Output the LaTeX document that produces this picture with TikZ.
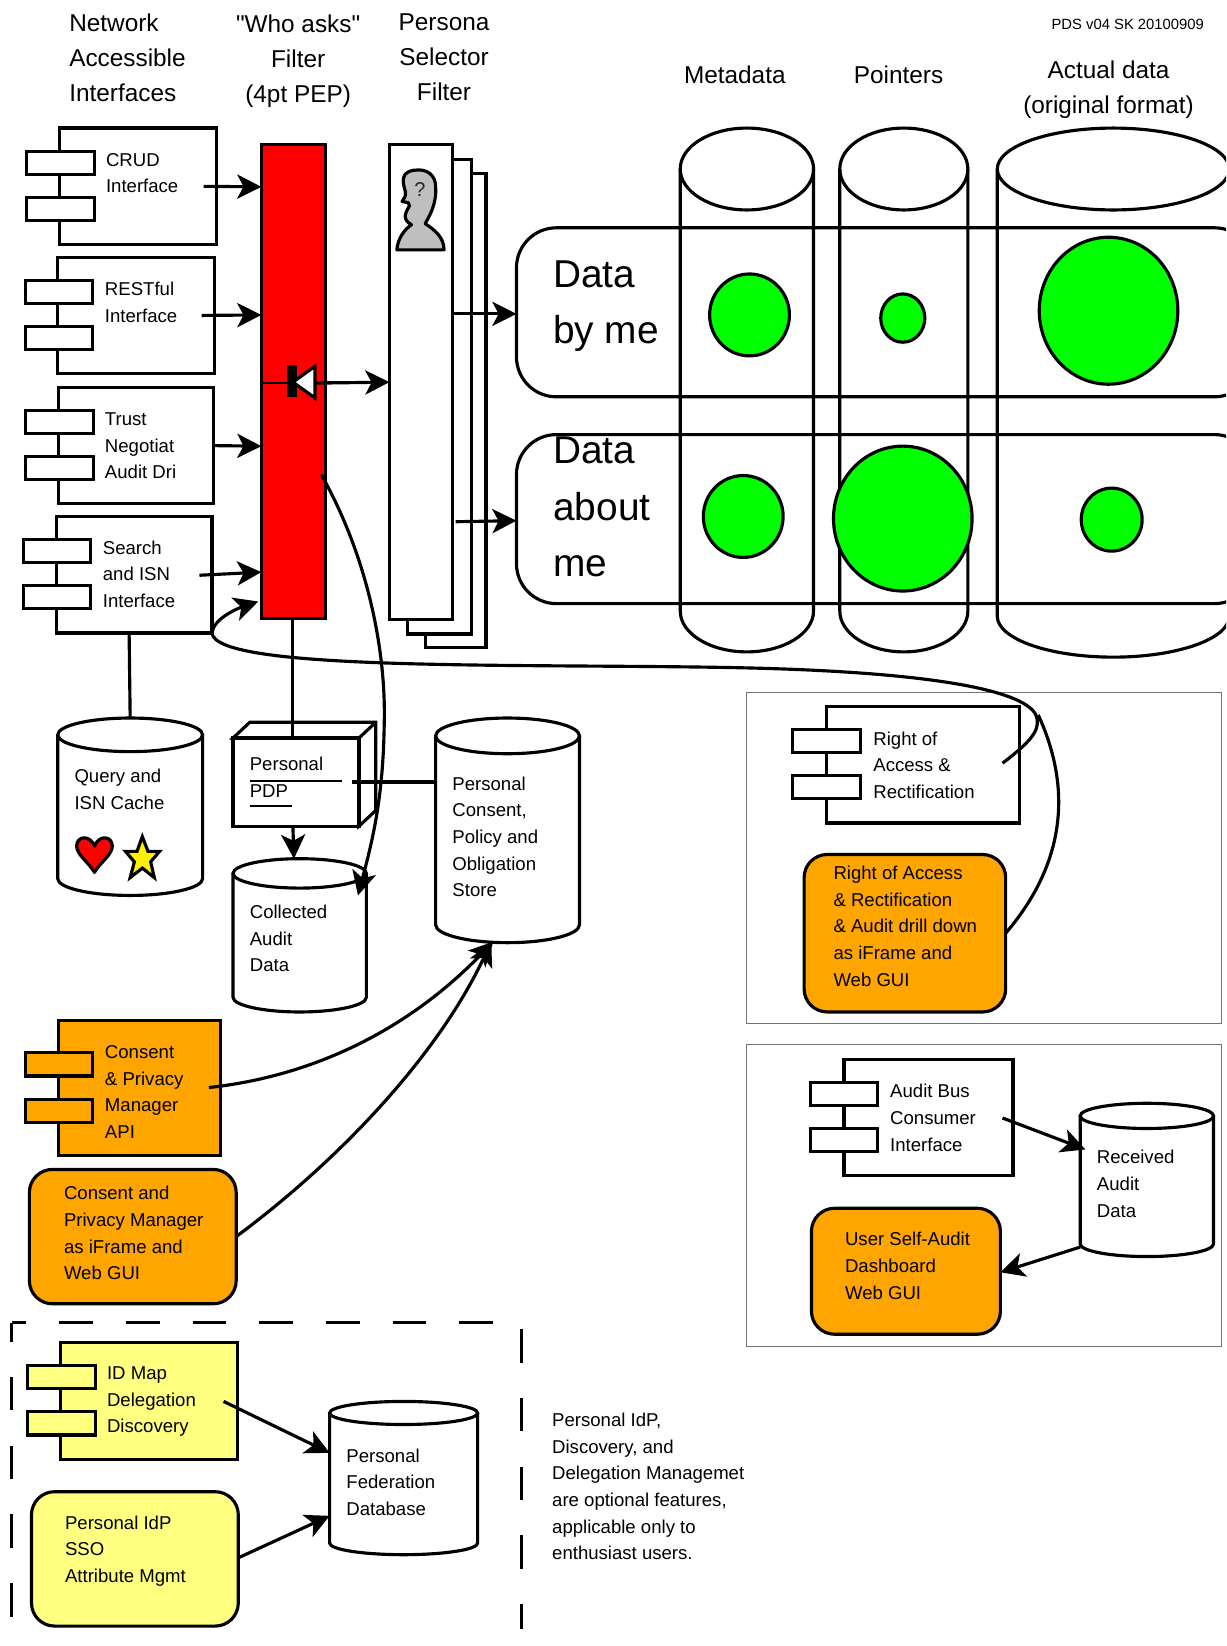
\documentclass[tikz,border=0pt]{standalone}
\usepackage{fontspec}
\setmainfont{Liberation Sans}
\newfontfamily\plainsans{Liberation Sans}
\usetikzlibrary{arrows.meta,shapes.geometric}
\newcommand\bx[6]{\pgfmathsetmacro\bxw{#5-#3}\pgfmathsetmacro\bxh{#6-#4}\pgfmathsetmacro\bxcx{(#3+#5)/2}\pgfmathsetmacro\bxcy{(#4+#6)/2}\node[#2,minimum width=\bxw pt,minimum height=\bxh pt] (#1) at (\bxcx,\bxcy) {};}
% component: name, fill, x1,y1,x2,y2, tab left, tab right, first tab top
\newcommand\comp[9]{\bx{#1}{solid box,fill=#2}{#3}{#4}{#5}{#6}
\pgfmathsetmacro\tby{#9+22}\pgfmathsetmacro\tcy{#9+44}\pgfmathsetmacro\tdy{#9+66}
\bx{#1t1}{solid box,fill=#2}{#7}{#9}{#8}{\tby}
\bx{#1t2}{solid box,fill=#2}{#7}{\tcy}{#8}{\tdy}}
% cylinder: name, fill opt, x1,x2,ytop,ybot,ry
\newcommand\cyl[7]{\pgfmathsetmacro\cyrx{(#4-#3)/2}\pgfmathsetmacro\cya{#5+#7}\pgfmathsetmacro\cyb{#6-#7}\pgfmathsetmacro\cyc{(#3+#4)/2}
\draw[thick line,#2] (#3,\cya) -- (#3,\cyb) arc[start angle=180,end angle=360,x radius=\cyrx pt,y radius=#7pt] -- (#4,\cya);
\draw[thick line,#2] (\cyc,\cya) ellipse[x radius=\cyrx pt,y radius=#7pt];
\bx{#1}{inner sep=0pt,outer sep=0pt,draw=none}{#3}{#5}{#4}{#6}}
\tikzset{
 thick line/.style={line width=3pt,draw=black},
 solid box/.style={draw=black,line width=3pt,inner sep=0pt,outer sep=0pt,rectangle},
 round box/.style={solid box,rounded corners=22pt},
 panel/.style={draw=black!55,line width=1.1pt,inner sep=0pt,outer sep=0pt,rectangle},
 link/.style={line width=3pt,draw=black},
 arr/.style={link,-{Stealth[length=23pt,width=23pt,inset=6pt]}},
 dashline/.style={line width=3pt,draw=black},
 lbl/.style={anchor=north west,inner sep=0pt,outer sep=0pt,align=left,yshift=-3pt,font=\fontsize{17.7}{25.4}\selectfont},
 title/.style={anchor=north west,inner sep=0pt,outer sep=0pt,align=left,yshift=-5pt,font=\fontsize{23.2}{33.5}\selectfont},
 ctitle/.style={anchor=north,inner sep=0pt,outer sep=0pt,align=center,yshift=-5pt,font=\fontsize{23.2}{33.5}\selectfont},
 big/.style={anchor=north west,inner sep=0pt,outer sep=0pt,align=left,yshift=-14pt,font=\fontsize{37}{54}\selectfont},
 blob/.style={ellipse,draw=black,line width=3pt,fill=green,inner sep=0pt,outer sep=0pt},
}
\definecolor{orangebox}{HTML}{FFA500}
\definecolor{yellowbox}{HTML}{FFFF80}
\begin{document}
\begin{tikzpicture}[x=1pt,y=-1pt]
\useasboundingbox (0,0) rectangle (1168,1568);
\clip (0,0) rectangle (1168,1568);
\fill[white] (0,0) rectangle (1168,1568);

% titles
\node[title] (tnet) at (66,8) {Network\\Accessible\\Interfaces};
\node[ctitle] (twho) at (284,9) {{\plainsans"Who asks"}\\Filter\\(4pt PEP)};
\node[ctitle] (tsel) at (423,8) {Persona\\Selector\\Filter};
\node[ctitle] (tmeta) at (700,58) {Metadata};
\node[ctitle] (tptr) at (856,58) {Pointers};
\node[ctitle] (tact) at (1056,53) {Actual data\\(original format)};
\node[anchor=east,inner sep=0pt,font=\fontsize{14.1}{18}\selectfont] (tpds) at (1147,23) {PDS v04 SK 20100909};

% data rows
\bx{rowa}{solid box,rounded corners=38pt}{492}{217}{1195}{378}
\bx{rowb}{solid box,rounded corners=38pt}{492}{414}{1195}{575}
% big stores
\cyl{smeta}{}{648}{775}{122}{621}{39}
\cyl{sptr}{}{800}{922}{122}{621}{39}
\cyl{sact}{}{950}{1171}{122}{626}{39}
\node[big] (da) at (527,234) {Data\\by me};
\node[big] (db) at (527,402) {Data\\about\\me};
% blobs
\node[blob,minimum width=76pt,minimum height=78pt] (g1) at (714,300) {};
\node[blob,minimum width=42pt,minimum height=46pt] (g2) at (860,303) {};
\node[blob,minimum width=132pt,minimum height=140pt] (g3) at (1056,296) {};
\node[blob,minimum width=76pt,minimum height=78pt] (g4) at (708,492) {};
\node[blob,minimum width=132pt,minimum height=138pt] (g5) at (860,494) {};
\node[blob,minimum width=58pt,minimum height=60pt] (g6) at (1059,495) {};

% persona pages
\bx{pg3}{solid box,fill=white}{405}{165}{463}{617}
\bx{pg2}{solid box,fill=white}{388}{152}{449}{604}
\bx{pg1}{solid box,fill=white}{371}{138}{431}{590}
\draw[line width=3pt,fill=black!25,line join=round] (397,162) .. controls (407,161) and (415,167) .. (415,178) .. controls (416,192) and (411,203) .. (405,213) .. controls (414,219) and (423,226) .. (423,238) -- (378,238) .. controls (379,227) and (385,219) .. (392,214) .. controls (388,212) and (386,209) .. (386,206) .. controls (386,203) and (388,200) .. (390,196) -- (389,193) -- (383,192) .. controls (385,189) and (387,187) .. (386,182) .. controls (384,175) and (383,170) .. (386,166) .. controls (389,163) and (393,162) .. (397,162) -- cycle;
\node[font=\fontsize{19}{19}\selectfont,inner sep=0pt,text=black!85] (qm) at (400,181) {?};

% red PEP
\bx{red}{solid box,fill=red}{249}{138}{310}{589}

% components
\comp{crud}{white}{57}{122}{206}{233}{25}{90}{144}
\comp{rest}{white}{55}{245}{204}{356}{24}{88}{267}
\comp{trust}{white}{56}{369}{203}{480}{24}{89}{391}
\comp{search}{white}{54}{492}{202}{603}{22}{86}{514}
\node[lbl] (lcrud) at (101,143) {CRUD\\Interface};
\node[lbl] (lrest) at (100,266) {RESTful\\Interface};
\node[lbl] (ltrust) at (100,390) {Trust\\Negotiat\\Audit Dri};
\node[lbl] (lsearch) at (98,512) {Search\\and ISN\\Interface};

% arrows into PEP
\draw[arr] ([xshift=-12pt]crud.east) -- (red.west |- 0,178);
\draw[arr] ([xshift=-12pt]rest.east) -- (red.west |- 0,300);
\draw[arr] (trust.east) -- (red.west |- 0,425);
\draw[arr] ([xshift=-12pt,yshift=-0.5pt]search.east) -- (red.west |- 0,545);

% diode
\coordinate (dio) at (278,365);
\draw[line width=1.8pt] (red.west |- dio) -- (300,365);
\draw[link] (310,364) -- (327,364);
\fill[black] (273,348) rectangle (283,378);
\draw[line width=3pt,fill=white,line join=miter] (300,349) -- (300,379) -- (279,364) -- cycle;
\draw[arr] (300,365) -- (pg1.west |- 0,364);

% persona to rows
\draw[arr] (pg1.east |- 0,299) -- (rowa.west |- 0,299);
\draw[arr] (434,497) -- (rowb.west |- 0,496);

% lower left stores
\cyl{qcache}{fill=white}{55}{193}{684}{853}{16}
\node[lbl] (lq) at (71,730) {Query and\\ISN Cache};
\draw[line width=3pt,fill=red,line join=round] (90,831) .. controls (84,821) and (73,814) .. (73,806) .. controls (73,796) and (86,795) .. (90,806) .. controls (94,795) and (107,796) .. (107,806) .. controls (107,814) and (96,821) .. (90,831) -- cycle;
\draw[line width=3pt,fill=yellow,line join=miter] (135.6,797) -- (141,811) -- (152,811) -- (143.5,821) -- (147,836) -- (135.6,827) -- (124,836) -- (128,821) -- (119.5,811) -- (130.5,811) -- cycle;

\cyl{store}{fill=white}{415}{552}{684}{898}{17}
\node[lbl] (lstore) at (431,737) {Personal\\Consent,\\Policy and\\Obligation\\Store};
\cyl{audit}{fill=white}{222}{349}{818}{964}{14}
\node[lbl] (laudit) at (238,859) {Collected\\Audit\\Data};

% PDP cube
\draw[thick line,fill=white,line join=miter] (222,703) -- (238,688) -- (358,688) -- (358,772) -- (342,787) -- (342,703) -- cycle;
\draw[thick line] (342,703) -- (358,688);
\bx{pdp}{solid box,fill=white}{222}{703}{342}{787}
\node[lbl] (lpdp) at (238,718) {Personal\\PDP};
\draw[line width=1.5pt] (238,744) -- (326,744);
\draw[line width=1.5pt] (238,768) -- (278,768);

\draw[link] (search.south -| 123,0) -- (qcache.north -| 124,0);
\draw[link] (red.south -| 279,0) -- (pdp.north -| 279,0);
\draw[arr] (pdp.south -| 279,0) -- (audit.north -| 280,0);
\draw[link] (335,745) -- (store.west |- 0,745);

% red curve to audit
\draw[arr] (306,452) .. controls (350,530) and (368,620) .. (366,690) .. controls (365,760) and (355,800) .. (341,853);

% Orange group left
\comp{cons}{orangebox}{56}{972}{210}{1101}{24}{88}{1003}
\node[lbl] (lcons) at (100,993) {Consent\\\& Privacy\\Manager\\API};
\bx{consg}{round box,fill=orangebox}{28}{1114}{225}{1242}
\node[lbl] (lconsg) at (61,1127) {Consent and\\Privacy Manager\\as iFrame and\\Web GUI};
\draw[arr] (199,1036) .. controls (300,1025) and (390,980) .. (470,897);
\draw[arr] (consg.east) .. controls (330,1100) and (420,1000) .. (468,897);

% Optional area
\draw[dashline,dash pattern=on 32pt off 31.5pt,dash phase=18pt] (11,1260) -- (497,1260);
\draw[dashline,dash pattern=on 32pt off 33.5pt,dash phase=14pt] (11,1260) -- (11,1568);
\draw[dashline,dash pattern=on 32pt off 33.5pt,dash phase=59.5pt] (497,1260) -- (497,1552);
\comp{idm}{yellowbox}{58}{1279}{226}{1390}{26}{91}{1301}
\node[lbl] (lidm) at (102,1299) {ID Map\\Delegation\\Discovery};
\bx{idp}{round box,fill=yellowbox}{30}{1421}{227}{1549}
\node[lbl] (lidp) at (62,1441) {Personal IdP\\SSO\\Attribute Mgmt};
\cyl{fed}{fill=white}{314}{455}{1335}{1481}{11}
\node[lbl] (lfed) at (330,1377) {Personal\\Federation\\Database};
\draw[arr] (213,1335) -- (fed.west |- 0,1384);
\draw[arr] (idp.east |- 0,1484) -- (fed.west |- 0,1444);
\node[lbl] (lnote) at (526,1343) {Personal IdP,\\Discovery, and\\Delegation Managemet\\are optional features,\\applicable only to\\enthusiast users.};

% Right panel 1
\bx{panela}{panel}{711}{660}{1164}{975}
\comp{roa}{white}{787}{673}{971}{784}{755}{820}{695}
\node[lbl] (lroa) at (832,694) {Right of\\Access \&\\Rectification};
\bx{roag}{round box,fill=orangebox}{766}{814}{958}{964}
\node[lbl] (lroag) at (794,822) {Right of Access\\\& Rectification\\\& Audit drill down\\as iFrame and\\Web GUI};

% Right panel 2
\bx{panelb}{panel}{711}{995}{1164}{1283}
\comp{abus}{white}{804}{1009}{965}{1120}{772}{836}{1031}
\node[lbl] (labus) at (848,1030) {Audit Bus\\Consumer\\Interface};
\cyl{recv}{fill=white}{1029}{1156}{1051}{1197}{12}
\node[lbl] (lrecv) at (1045,1093) {Received\\Audit\\Data};
\bx{dash}{round box,fill=orangebox}{773}{1151}{953}{1271}
\node[lbl] (ldash) at (805,1171) {User Self-Audit\\Dashboard\\Web GUI};
\draw[arr] (955,1065) -- ([xshift=5pt]recv.west |- 0,1095);
\draw[arr] (recv.west |- 0,1188) -- (dash.east |- 0,1212);

% long curves
\draw[arr] (955,727) .. controls (980,708) and (990,697) .. (988,685) .. controls (985,660) and (900,640) .. (700,636) .. controls (500,632) and (205,640) .. (search.south east) .. controls (203,590) and (225,580) .. (246,573);
\draw[link] (958,889) .. controls (1000,840) and (1030,770) .. (989,681);
\end{tikzpicture}
\end{document}
